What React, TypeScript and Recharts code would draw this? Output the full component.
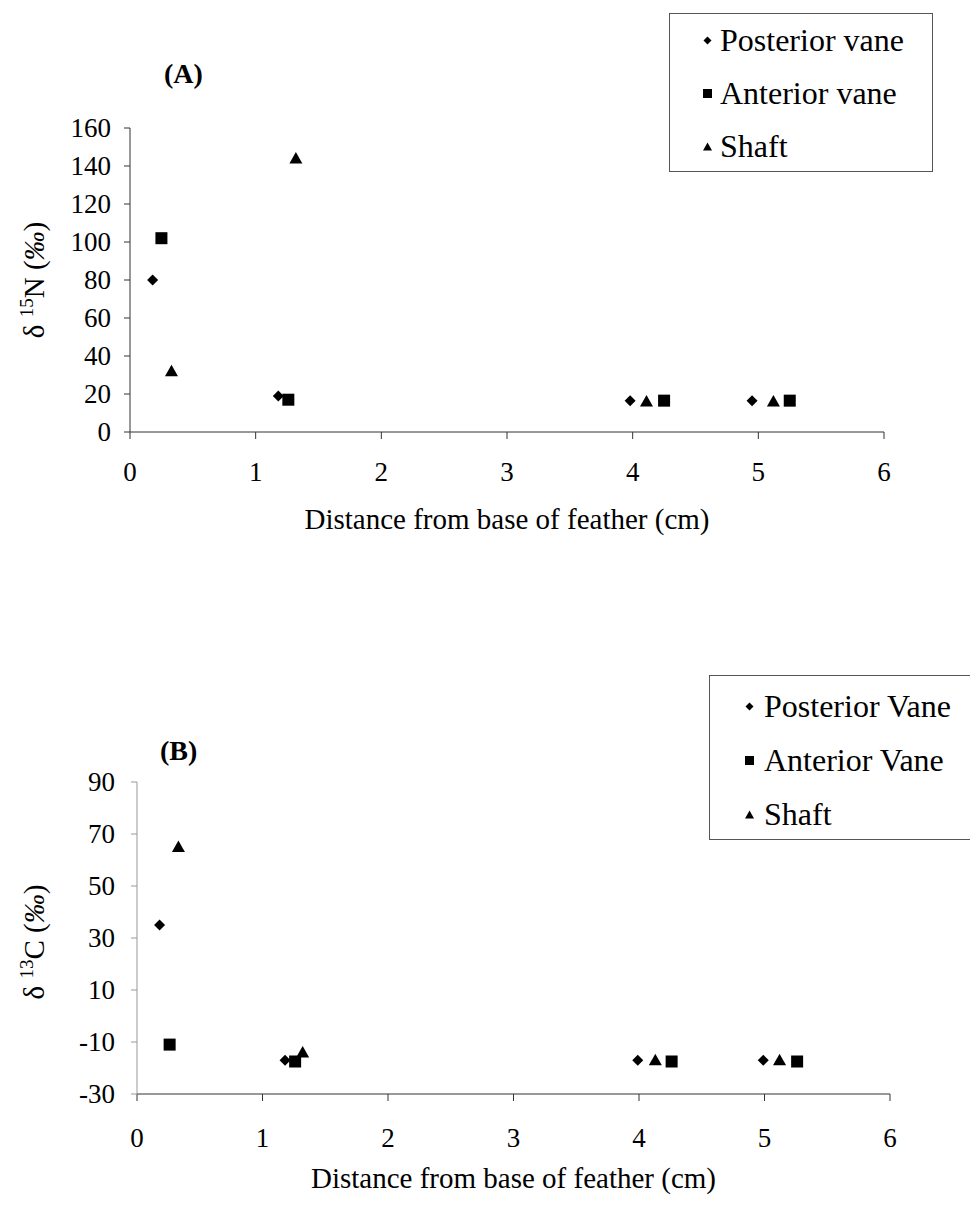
import { ScatterChart, Scatter, XAxis, YAxis, Legend, Label } from 'recharts';

const serif = '"Liberation Serif", "Times New Roman", Times, serif';

// distance from base of feather (cm)
const xTicks = [0, 1, 2, 3, 4, 5, 6];

// (A) delta 15N
const nPosteriorX = [0.18, 1.18, 3.98, 4.95];
const nPosteriorY = [80, 19, 16.5, 16.5];
const nAnteriorX = [0.25, 1.26, 4.25, 5.25];
const nAnteriorY = [102, 17, 16.5, 16.5];
const nShaftX = [0.33, 1.32, 4.11, 5.12];
const nShaftY = [32, 144, 16, 16];
const nTicks = [0, 20, 40, 60, 80, 100, 120, 140, 160];
const nLegend = ['Posterior vane', 'Anterior vane', 'Shaft'];

// (B) delta 13C
const cPosteriorX = [0.18, 1.18, 3.99, 4.99];
const cPosteriorY = [35, -17, -17, -17];
const cAnteriorX = [0.26, 1.26, 4.26, 5.26];
const cAnteriorY = [-11, -17.5, -17.5, -17.5];
const cShaftX = [0.33, 1.32, 4.13, 5.12];
const cShaftY = [65, -14, -17, -17];
const cTicks = [-30, -10, 10, 30, 50, 70, 90];
const cLegend = ['Posterior Vane', 'Anterior Vane', 'Shaft'];

const pts = (xs: number[], ys: number[]) => xs.map((x, i) => ({ x, y: ys[i] }));

const Diamond = ({ cx, cy }: any) => (
  <path d={`M${cx},${cy - 5.5}L${cx + 5.5},${cy}L${cx},${cy + 5.5}L${cx - 5.5},${cy}Z`} fill="#000" />
);
const Square = ({ cx, cy }: any) => <rect x={cx - 6} y={cy - 6} width={12} height={12} fill="#000" />;
const Triangle = ({ cx, cy }: any) => (
  <path d={`M${cx},${cy - 6.5}L${cx + 6.5},${cy + 5}L${cx - 6.5},${cy + 5}Z`} fill="#000" />
);

const tickStyle = { fontFamily: serif, fontSize: 27, fill: '#000' };

const XTick = ({ x, y, payload }: any) => (
  <text x={x} y={y} dy={18} textAnchor="middle" style={tickStyle}>
    {payload.value}
  </text>
);
const YTick = ({ x, y, payload }: any) => (
  <text x={x} y={y} dy={9} textAnchor="end" style={tickStyle}>
    {payload.value}
  </text>
);

// rotated axis title: δ with a superscript isotope number
const yTitle = (iso: string, el: string, cx: number, cy: number) => () => (
  <text
    x={cx}
    y={cy}
    transform={`rotate(-90 ${cx} ${cy})`}
    textAnchor="middle"
    dy={10}
    style={{ fontFamily: serif, fontSize: 29, fill: '#000' }}
  >
    δ <tspan dy={-11} fontSize={19}>{iso}</tspan>
    <tspan dy={11}>{el} (</tspan>
    <tspan fontStyle="italic">‰</tspan>)
  </text>
);

const markers = [
  <path key="d" d="M5.5,1.5L9.5,5.5L5.5,9.5L1.5,5.5Z" fill="#000" />,
  <rect key="s" x={1} y={1} width={9} height={9} fill="#000" />,
  <path key="t" d="M5.5,1.5L10,9.5L1,9.5Z" fill="#000" />,
];

const LegendBox = ({ labels, width, height, gap, padTop, padLeft, markGap }: any) => (
  <div
    style={{
      width,
      height,
      boxSizing: 'border-box',
      border: '1px solid #555',
      padding: `${padTop}px 0 0 ${padLeft}px`,
      fontFamily: serif,
      fontSize: 32,
      color: '#000',
      whiteSpace: 'nowrap',
    }}
  >
    {labels.map((l: string, i: number) => (
      <div key={l} style={{ height: gap, display: 'flex', alignItems: 'center' }}>
        <svg width={11} height={11} style={{ marginRight: markGap, flex: 'none' }}>
          {markers[i]}
        </svg>
        {l}
      </div>
    ))}
  </div>
);

const panelLabel = (text: string, left: number, top: number) => (
  <div
    style={{
      position: 'absolute',
      left,
      top,
      fontFamily: serif,
      fontSize: 28,
      fontWeight: 'bold',
      zIndex: 2,
    }}
  >
    {text}
  </div>
);

const xTitle = (offset: number) => ({
  value: 'Distance from base of feather (cm)',
  position: 'insideBottom' as const,
  offset,
  style: { fontFamily: serif, fontSize: 29, fill: '#000' },
});

export default function App() {
  return (
    <div style={{ width: 962, background: '#fff' }}>
      <div style={{ position: 'relative', width: 962, height: 574 }}>
        {panelLabel('(A)', 156, 50)}
        <ScatterChart width={962} height={574} margin={{ top: 120, right: 86, bottom: 51, left: 0 }}>
          <XAxis
            type="number"
            dataKey="x"
            domain={[0, 6]}
            ticks={xTicks}
            height={99}
            stroke="#333"
            tickSize={7}
            tickMargin={24}
            tick={<XTick />}
            label={xTitle(2)}
          />
          <YAxis
            type="number"
            dataKey="y"
            domain={[0, 160]}
            ticks={nTicks}
            width={122}
            stroke="#333"
            tickSize={6}
            tickMargin={13}
            tick={<YTick />}
          >
            <Label content={yTitle('15', 'N', 26, 272)} />
          </YAxis>
          <Legend
            layout="vertical"
            align="center"
            verticalAlign="middle"
            wrapperStyle={{ left: 661, top: 5, width: 264 }}
            content={() => (
              <LegendBox labels={nLegend} width={264} height={159} gap={53} padTop={0} padLeft={32} markGap={7} />
            )}
          />
          <Scatter name={nLegend[0]} data={pts(nPosteriorX, nPosteriorY)} shape={<Diamond />} isAnimationActive={false} />
          <Scatter name={nLegend[1]} data={pts(nAnteriorX, nAnteriorY)} shape={<Square />} isAnimationActive={false} />
          <Scatter name={nLegend[2]} data={pts(nShaftX, nShaftY)} shape={<Triangle />} isAnimationActive={false} />
        </ScatterChart>
      </div>
      <div style={{ position: 'relative', width: 962, height: 615 }}>
        {panelLabel('(B)', 152, 153)}
        <ScatterChart width={962} height={615} margin={{ top: 200, right: 80, bottom: 0, left: 0 }}>
          <XAxis
            type="number"
            dataKey="x"
            domain={[0, 6]}
            ticks={xTicks}
            height={103}
            stroke="#333"
            tickSize={7}
            tickMargin={28}
            tick={<XTick />}
            label={xTitle(9)}
          />
          <YAxis
            type="number"
            dataKey="y"
            domain={[-30, 90]}
            ticks={cTicks}
            width={129}
            stroke="#999"
            tickSize={6}
            tickMargin={16}
            tick={<YTick />}
          >
            <Label content={yTitle('13', 'C', 26, 360)} />
          </YAxis>
          <Legend
            layout="vertical"
            align="center"
            verticalAlign="middle"
            wrapperStyle={{ left: 701, top: 93, width: 268 }}
            content={() => (
              <LegendBox labels={cLegend} width={268} height={165} gap={54} padTop={3} padLeft={34} markGap={9} />
            )}
          />
          <Scatter name={cLegend[0]} data={pts(cPosteriorX, cPosteriorY)} shape={<Diamond />} isAnimationActive={false} />
          <Scatter name={cLegend[1]} data={pts(cAnteriorX, cAnteriorY)} shape={<Square />} isAnimationActive={false} />
          <Scatter name={cLegend[2]} data={pts(cShaftX, cShaftY)} shape={<Triangle />} isAnimationActive={false} />
        </ScatterChart>
      </div>
    </div>
  );
}
